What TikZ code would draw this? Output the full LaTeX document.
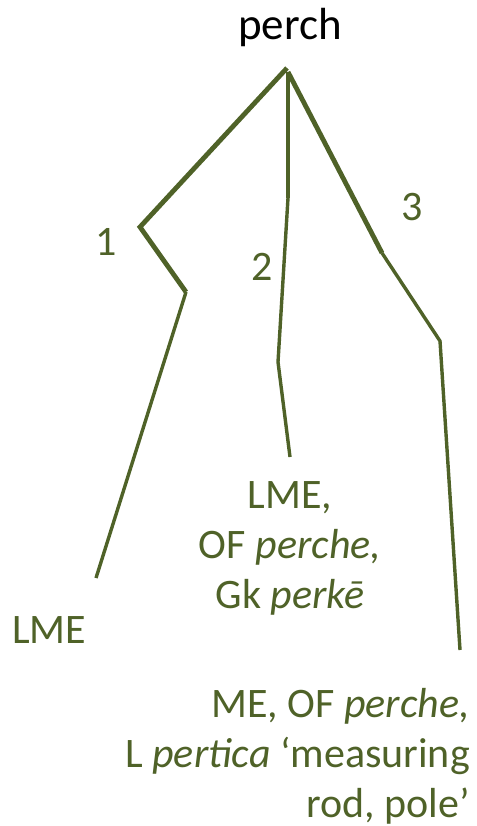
\documentclass[tikz,border=0pt]{standalone}
\usepackage{fontspec}
\setmainfont{Carlito}
\definecolor{olivedark}{HTML}{4F6228}
\begin{document}
\begin{tikzpicture}[x=1pt, y=-1pt,
    branch/.style={draw=olivedark, line width=3.4pt},
    stem/.style={draw=olivedark, line width=4.8pt},
    sense/.style={text=olivedark, inner sep=0pt, font=\fontsize{42}{50}\selectfont},
    word/.style={text=black, inner sep=0pt, font=\fontsize{45}{54}\selectfont}]
    \useasboundingbox (0,0) rectangle (476,826);
    % headword
    \node[word, anchor=base] (head) at (290,40) {perch};
    % bend points of the three senses
    \coordinate (root) at (287,68);
    \coordinate (a1) at (140,227);
    \coordinate (a2) at (186,292);
    \coordinate (a3) at (96,578);
    \coordinate (b0) at (288,72);
    \coordinate (b1) at (288,198);
    \coordinate (b2) at (278,362);
    \coordinate (b3) at (290,457);
    \coordinate (c1) at (382,253);
    \coordinate (c2) at (440,341);
    \coordinate (c3) at (460,650);
    \draw[stem, line join=miter] (root) -- (a1) -- (a2);
    \draw[branch, line join=miter] (a2) -- (a3);
    \draw[stem] (b0) -- (b1);
    \draw[branch] (b1) -- (b2) -- (b3);
    \draw[stem] (b0) -- (c1);
    \draw[branch] (c1) -- (c2) -- (c3);
    % sense numbers
    \node[sense, anchor=base] (n1) at (106,255) {1};
    \node[sense, anchor=base] (n2) at (262,280) {2};
    \node[sense, anchor=base] (n3) at (412,221) {3};
    % origins
    \node[sense, anchor=base west] (o1) at (12,643) {LME};
    \node[sense, anchor=north, align=center] (o2) at (290,481)
        {LME,\\OF \textit{perche,}\\Gk \textit{perkē}};
    \node[sense, anchor=north east, align=right] (o3) at (470,688)
        {ME, OF \textit{perche,}\\L \textit{pertica} ‘measuring\\rod, pole’};
\end{tikzpicture}
\end{document}
